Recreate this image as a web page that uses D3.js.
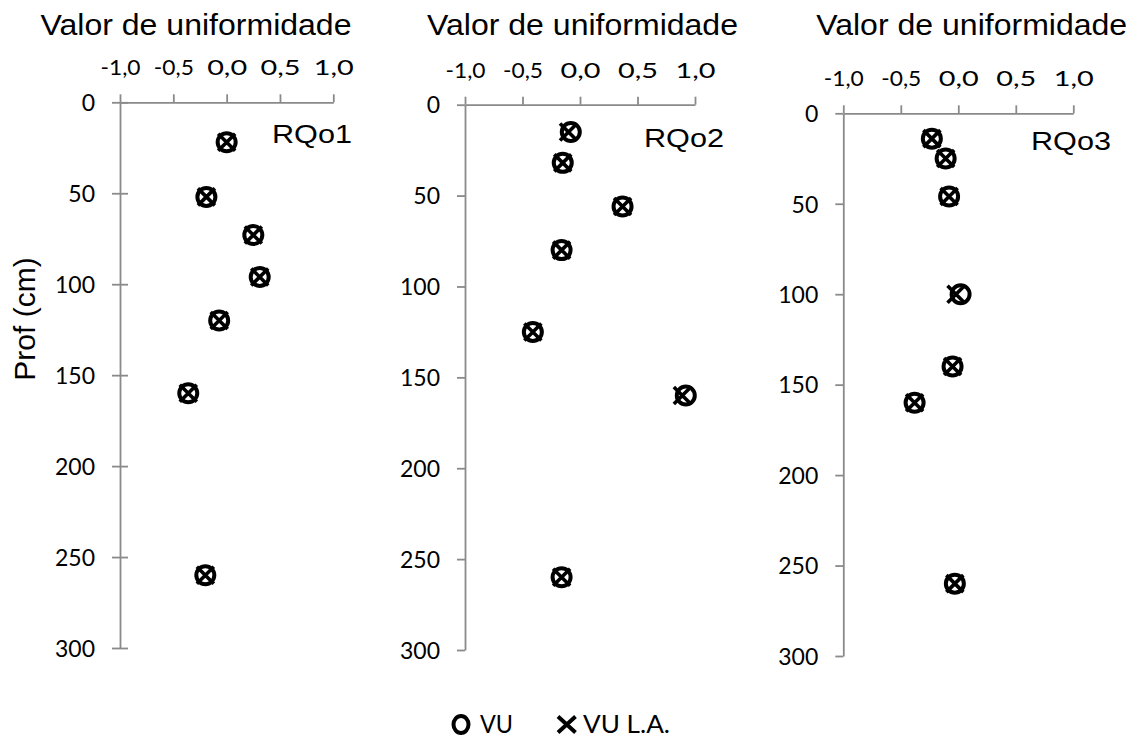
<!DOCTYPE html>
<html><head><meta charset="utf-8">
<script src="https://cdn.jsdelivr.net/npm/d3@7"></script>
<style>body{margin:0;background:#fff}svg{display:block}</style>
</head><body>
<svg id="c" width="1144" height="738"></svg>
<script>
// ---- data ----
const xTicks = [-1, -0.5, 0, 0.5, 1];
const yTicks = [0, 50, 100, 150, 200, 250, 300];
const panelNames = ["RQo1", "RQo2", "RQo3"];
const titleText = "Valor de uniformidade";
const yLabel = "Prof (cm)";
const seriesNames = ["VU", "VU L.A."];

const depth1 = [22, 52, 73, 96, 120, 160, 260];
const vu1    = [0.00, -0.19, 0.25, 0.31, -0.07, -0.36, -0.20];
const vuLA1  = [0.00, -0.19, 0.25, 0.31, -0.07, -0.36, -0.20];

const depth2 = [15, 32, 56, 80, 125, 160, 260];
const vu2    = [-0.08, -0.15, 0.37, -0.16, -0.41, 0.92, -0.16];
const vuLA2  = [-0.10, -0.15, 0.37, -0.16, -0.41, 0.89, -0.16];

const depth3 = [14, 25, 46, 100, 140, 160, 260];
const vu3    = [-0.23, -0.11, -0.08, 0.02, -0.05, -0.38, -0.03];
const vuLA3  = [-0.23, -0.11, -0.08, -0.02, -0.05, -0.38, -0.03];

// ---- layout ----
const panels = [
  {name: panelNames[0], depth: depth1, vu: vu1, la: vuLA1, x0: 120, x1: 333.3, y0: 102.3, y1: 648, title: 196, nameEnd: 352, nameBase: 143, cross: true},
  {name: panelNames[1], depth: depth2, vu: vu2, la: vuLA2, x0: 465, x1: 695, y0: 104.7, y1: 650, title: 582.5, nameEnd: 724, nameBase: 147, cross: false},
  {name: panelNames[2], depth: depth3, vu: vu3, la: vuLA3, x0: 843.3, x1: 1073.3, y0: 113.3, y1: 656, title: 971.7, nameEnd: 1111, nameBase: 150, cross: false}
];

const svg = d3.select("#c");
const axisColor = "#8a8a8a";
const loc = d3.formatLocale({decimal: ",", thousands: ".", grouping: [3], currency: ["", ""], minus: "-"});
const fmt = loc.format(".1f");

function circleMark(g, cx, cy) {
  g.append("circle").attr("cx", cx).attr("cy", cy).attr("r", 9)
    .attr("fill", "none").attr("stroke", "#000").attr("stroke-width", 4);
}
function xMark(g, cx, cy, s) {
  g.append("path")
    .attr("d", `M${cx - s},${cy - s}L${cx + s},${cy + s}M${cx - s},${cy + s}L${cx + s},${cy - s}`)
    .attr("stroke", "#000").attr("stroke-width", 3.6).attr("fill", "none");
}

panels.forEach(p => {
  const x = d3.scaleLinear().domain([-1, 1]).range([p.x0, p.x1]);
  const y = d3.scaleLinear().domain([0, 300]).range([p.y0, p.y1]);
  const g = svg.append("g");

  // title
  g.append("text").attr("x", p.title).attr("y", 35)
    .attr("text-anchor", "middle")
    .attr("font-family", "Liberation Sans, Arial, sans-serif")
    .attr("font-size", 29).attr("textLength", 311).attr("lengthAdjust", "spacingAndGlyphs")
    .text(titleText);

  // x axis (top)
  const xa = g.append("g").attr("transform", `translate(0,${p.y0})`)
    .call(d3.axisTop(x).tickValues(xTicks).tickFormat(fmt).tickSizeInner(8).tickSizeOuter(0).tickPadding(19));
  xa.select(".domain").attr("stroke", axisColor).attr("stroke-width", 1.8);
  xa.selectAll(".tick line").attr("stroke", axisColor).attr("stroke-width", 1.8);
  xa.selectAll(".tick text").attr("font-family", "Lato, sans-serif").attr("font-size", 21)
    .attr("fill", "#000").attr("textLength", 40).attr("lengthAdjust", "spacingAndGlyphs").attr("dy", 0);

  // y axis (left)
  const ya = g.append("g").attr("transform", `translate(${p.x0},0)`)
    .call(d3.axisLeft(y).tickValues(yTicks).tickSizeInner(8).tickSizeOuter(0).tickPadding(17));
  ya.select(".domain").attr("stroke", axisColor).attr("stroke-width", 1.8);
  ya.selectAll(".tick line").attr("stroke", axisColor).attr("stroke-width", 1.8);
  if (p.cross) ya.selectAll(".tick line").attr("x1", 8);
  ya.selectAll(".tick text").attr("font-family", "Lato, sans-serif").attr("font-size", 23)
    .attr("fill", "#000").attr("dy", "0.36em");

  // panel name
  g.append("text").attr("x", p.nameEnd).attr("y", p.nameBase).attr("text-anchor", "end")
    .attr("font-family", "Liberation Sans, Arial, sans-serif").attr("font-size", 26)
    .attr("textLength", 80).attr("lengthAdjust", "spacingAndGlyphs")
    .text(p.name);

  // markers
  const mg = g.append("g");
  p.depth.forEach((d, i) => {
    circleMark(mg, x(p.vu[i]), y(d));
    xMark(mg, x(p.la[i]), y(d), 8.5);
  });
});

// y label
svg.append("text").attr("transform", "translate(35,319) rotate(-90)")
  .attr("text-anchor", "middle")
  .attr("font-family", "Liberation Sans, Arial, sans-serif").attr("font-size", 30)
  .text(yLabel);

// legend
const lg = svg.append("g");
lg.append("ellipse").attr("cx", 461).attr("cy", 724.5).attr("rx", 7.5).attr("ry", 8.5)
  .attr("fill", "none").attr("stroke", "#000").attr("stroke-width", 4);
lg.append("text").attr("x", 480).attr("y", 733).attr("font-family", "Lato, sans-serif")
  .attr("font-size", 25).attr("textLength", 33).attr("lengthAdjust", "spacingAndGlyphs").text(seriesNames[0]);
lg.append("path").attr("d", "M558,716.5L575.5,732.5M558,732.5L575.5,716.5")
  .attr("stroke", "#000").attr("stroke-width", 4).attr("fill", "none");
lg.append("text").attr("x", 583).attr("y", 733).attr("font-family", "Lato, sans-serif")
  .attr("font-size", 25).attr("textLength", 87).attr("lengthAdjust", "spacingAndGlyphs").text(seriesNames[1]);
</script>
</body></html>
